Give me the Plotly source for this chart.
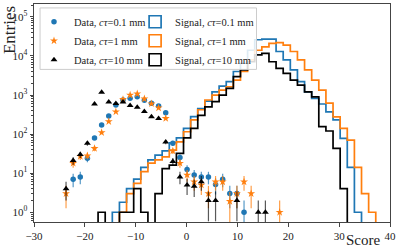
import numpy as np
import plotly.graph_objects as go

# ---- binning (50 bins of width 1.4 from -30 to 40) ----
bin_lo, bin_hi, n_bins = -30.0, 40.0, 50
edges = np.linspace(bin_lo, bin_hi, n_bins + 1)

# ---- signal histograms (entries per bin, bins 0..49) ----
sig_01 = [0, 0, 0, 0, 0, 0, 0, 0, 0, 0,
          0, 1, 1.8, 4, 7, 14, 22, 29, 37, 60,
          80, 140, 280, 450, 700, 1200, 1700, 2200, 4000, 6500,
          14000, 26000, 27000, 27000, 13000, 7900, 4400, 2200, 1200, 825,
          590, 370, 230, 78, 14, 1, 0, 0, 0, 0]
sig_1 = [0, 0, 0, 0, 0, 0, 0, 0, 0, 0,
         0, 0, 1, 3, 5.5, 11, 18, 22, 26, 39,
         63, 115, 230, 420, 745, 1000, 1340, 1630, 2400, 4000,
         7900, 14000, 17000, 21000, 22000, 19000, 13000, 7900, 4400, 2400,
         1340, 620, 277, 140, 70, 14, 3, 1, 0, 0]
sig_10 = [0, 0, 0, 0, 0, 0, 0, 0, 0, 1,
          0, 0, 1, 1, 4, 1, 0, 3, 13, 16,
          32, 80, 140, 300, 500, 675, 1000, 1480, 2950, 4400,
          7100, 10600, 11700, 7100, 4800, 3600, 2400, 1800, 1200, 900,
          155, 120, 43, 4, 0, 0, 0, 0, 0, 0]

# ---- data points (bin centres, entries) ----
dat_01_x = [-22.3, -20.9, -19.5, -18.1, -16.7, -15.3, -13.9, -12.5, -11.1, -9.7,
            -8.3, -6.9, -5.5, -4.1, -2.7, -1.3, 0.1, 1.5, 2.9, 4.3,
            5.7, 7.1, 8.5, 9.9, 11.3]
dat_01_y = [7, 8, 24, 80, 170, 290, 555, 745, 825, 910,
            730, 615, 525, 350, 58, 25, 12.5, 9, 8, 8,
            5.1, 7, 3, 3, 1]
dat_1_x = [-23.7, -22.3, -20.9, -19.5, -18.1, -16.7, -15.3, -13.9, -12.5, -11.1,
           -9.7, -8.3, -6.9, -5.5, -4.1, -2.7, -1.3, 0.1, 1.5, 2.9,
           4.3, 5.7, 7.1, 8.5, 9.9, 11.3, 12.7, 18.3]
dat_1_y = [3, 18, 27, 28, 43, 110, 210, 373, 775, 1000,
           1075, 800, 600, 470, 252, 37, 18, 9, 6, 5,
           3, 6, 6, 1.9, 3, 6, 3, 1]
dat_10_x = [-23.7, -22.3, -20.9, -19.5, -18.1, -16.7, -15.3, -13.9, -12.5, -11.1,
            -9.7, -8.3, -6.9, -5.5, -4.1, -2.7, -1.3, 0.1, 1.5, 2.9,
            4.3, 5.7, 9.9, 14.1, 15.5]
dat_10_y = [4, 21, 30, 58, 590, 1170, 660, 610, 660, 540,
            490, 380, 280, 250, 63, 20, 8, 5, 4.6, 6,
            2, 2, 2, 1, 1]

labels_ct = ["0.1", "1", "10"]
colors = ["#1f77b4", "#ff7f0e", "#000000"]
err_colors = ["rgba(31,119,180,0.75)", "rgba(255,127,14,0.75)", "rgba(0,0,0,0.65)"]
symbols = ["circle", "star", "triangle-up"]
msizes = [5.5, 6, 6]
FONT = "Liberation Serif"

fig = go.Figure()

data_sets = [(dat_01_x, dat_01_y), (dat_1_x, dat_1_y), (dat_10_x, dat_10_y)]
for (xs, ys), lab, col, ecol, sym, ms in zip(data_sets, labels_ct, colors, err_colors, symbols, msizes):
    ys = np.array(ys, dtype=float)
    fig.add_trace(go.Scatter(
        x=xs, y=ys, mode="markers",
        marker=dict(symbol=sym, color=col, size=ms, line=dict(width=0)),
        error_y=dict(type="data", array=np.sqrt(ys), color=ecol, thickness=1.2, width=0),
        name=f"Data, <i>cτ</i>={lab} mm", legend="legend",
    ))

floor = 1e-3
for vals, lab, col in zip([sig_01, sig_1, sig_10], labels_ct, colors):
    v = [x if x > 0 else floor for x in vals]
    fig.add_trace(go.Scatter(
        x=edges, y=v + [v[-1]], mode="lines",
        line=dict(color=col, width=1.7, shape="hv"),
        showlegend=False, hoverinfo="skip",
    ))
    # legend entry (hollow square like matplotlib step patch)
    fig.add_trace(go.Bar(
        x=[None], y=[None], name=f"Signal, <i>cτ</i>={lab} mm",
        marker=dict(color="rgba(0,0,0,0)", line=dict(color=col, width=1.7)),
        legend="legend2",
    ))

axis_col = "#444"
tick_font = dict(family=FONT, size=11, color="#222")
fig.update_xaxes(
    range=[bin_lo, bin_hi], tickvals=list(range(-30, 41, 10)),
    ticks="outside", ticklen=3.5, tickwidth=0.8, tickcolor=axis_col,
    showline=True, linecolor=axis_col, linewidth=1, mirror=True,
    showgrid=False, zeroline=False, tickfont=tick_font,
)
major = [10 ** k for k in range(0, 6)]
minor = [m * 10 ** k for k in range(-1, 6) for m in range(2, 10)]
fig.update_yaxes(
    type="log", range=[-0.25, 5.33],
    tickvals=major, ticktext=[f"10<sup>{k}</sup>" for k in range(0, 6)],
    ticks="outside", ticklen=3.5, tickwidth=0.8, tickcolor=axis_col,
    minor=dict(tickmode="array", tickvals=minor, ticks="outside", ticklen=2,
               tickwidth=0.6, tickcolor=axis_col, showgrid=False),
    showline=True, linecolor=axis_col, linewidth=1, mirror=True,
    showgrid=False, zeroline=False, tickfont=tick_font,
)

leg_common = dict(
    orientation="v", yanchor="top", xanchor="left", y=0.985,
    bgcolor="rgba(0,0,0,0)", borderwidth=0, itemwidth=30,
    font=dict(family=FONT, size=10.5, color="#222"),
    tracegroupgap=0, itemclick=False,
)
fig.update_layout(
    width=399, height=249,
    margin=dict(l=34, r=9, t=4, b=27),
    paper_bgcolor="white", plot_bgcolor="white",
    font=dict(family=FONT, color="#222"),
    legend=dict(x=0.0, **leg_common),
    legend2=dict(x=0.284, **leg_common),
    showlegend=True,
    barmode="overlay",
    shapes=[dict(type="rect", xref="paper", yref="paper",
                 x0=0.017, x1=0.625, y0=0.70, y1=0.982,
                 fillcolor="rgba(255,255,255,0.85)", line=dict(color="#ccc", width=1),
                 layer="above")],
    annotations=[
        dict(text="Score", xref="paper", yref="paper", x=0.978, y=-0.082,
             xanchor="right", yanchor="middle", showarrow=False,
             font=dict(family=FONT, size=15, color="#222")),
        dict(text="Entries", xref="paper", yref="paper", x=-0.07, y=1.0,
             xanchor="center", yanchor="top", textangle=-90, showarrow=False,
             font=dict(family=FONT, size=17, color="#222")),
    ],
)

fig.write_html("out.html", config={"displayModeBar": False},
               post_script="document.body.style.margin='0';")
